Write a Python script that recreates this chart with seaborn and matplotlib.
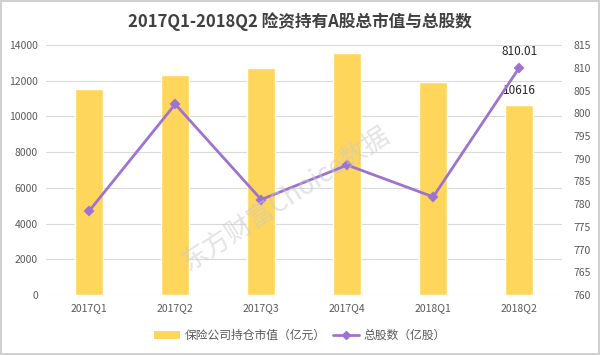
import seaborn as sns
import matplotlib.pyplot as plt
from matplotlib.patches import Patch
from matplotlib.lines import Line2D

quarters = ['2017Q1', '2017Q2', '2017Q3', '2017Q4', '2018Q1', '2018Q2']
market_value = [11520, 12330, 12700, 13540, 11950, 10616]   # 亿元
total_shares = [778.5, 802.0, 781.0, 788.6, 781.6, 810.01]  # 亿股

left_ticks = list(range(0, 14001, 2000))
right_ticks = list(range(760, 816, 5))

BAR_COLOR = '#FFD65C'
LINE_COLOR = '#9E73CF'
TEXT_COLOR = '#595959'
GRID_COLOR = '#D9D9D9'

sns.set_theme(style='white')
plt.rcParams['font.family'] = ['Noto Sans CJK SC', 'DejaVu Sans']

fig = plt.figure(figsize=(6.0, 3.55), dpi=100)
ax = fig.add_axes([0.077, 0.169, 0.86, 0.704])

sns.barplot(x=quarters, y=market_value, color=BAR_COLOR, width=0.32,
            saturation=1, ax=ax)
ax.set_ylim(0, 14000)
ax.set_yticks(left_ticks)
ax.set_yticklabels([str(t) for t in left_ticks])
ax.grid(axis='y', color=GRID_COLOR, linewidth=0.8)
ax.set_axisbelow(True)
for s in ax.spines.values():
    s.set_visible(False)
ax.tick_params(axis='both', length=0, labelsize=7.5, labelcolor=TEXT_COLOR, pad=6)
ax.set_xlabel('')
ax.set_ylabel('')

ax2 = ax.twinx()
sns.pointplot(x=quarters, y=total_shares, color=LINE_COLOR, markers='D',
              markersize=4.5, linewidth=2, ax=ax2)
ax2.set_ylim(760, 815)
ax2.set_yticks(right_ticks)
ax2.set_yticklabels([str(t) for t in right_ticks])
for s in ax2.spines.values():
    s.set_visible(False)
ax2.tick_params(axis='y', length=0, labelsize=7.5, labelcolor=TEXT_COLOR, pad=8)
ax2.set_ylabel('')
ax2.set_xlim(-0.5, 5.5)

# data labels on the last category
ax.text(5, market_value[-1] + 500, f'{market_value[-1]}', ha='center', va='bottom',
        fontsize=8.5, color='#262626')
ax2.text(5, total_shares[-1] + 2.2, f'{total_shares[-1]:.2f}', ha='center',
         va='bottom', fontsize=8.5, color='#262626')

fig.suptitle('2017Q1-2018Q2 险资持有A股总市值与总股数', y=0.965,
             fontsize=12, fontweight='bold', color='#404040')

# watermark
fig.text(0.475, 0.44, '东方财富Choice数据', rotation=33, ha='center', va='center',
         fontsize=19, color='#C8C8C8', alpha=0.5)

handles = [Patch(facecolor=BAR_COLOR, edgecolor='none'),
           Line2D([0], [0], color=LINE_COLOR, linewidth=2, marker='D', markersize=4)]
labels = ['保险公司持仓市值（亿元）', '总股数（亿股）']
fig.legend(handles, labels, loc='center', bbox_to_anchor=(0.5, 0.055), ncol=2,
           frameon=False, fontsize=8.5, labelcolor=TEXT_COLOR, handlelength=2.2,
           handleheight=0.6, columnspacing=0.6, handletextpad=0.4)

fig.patch.set_edgecolor('#D0D0D0')
fig.patch.set_linewidth(1.5)
fig.savefig('out.png', dpi=100, edgecolor=fig.get_edgecolor())
